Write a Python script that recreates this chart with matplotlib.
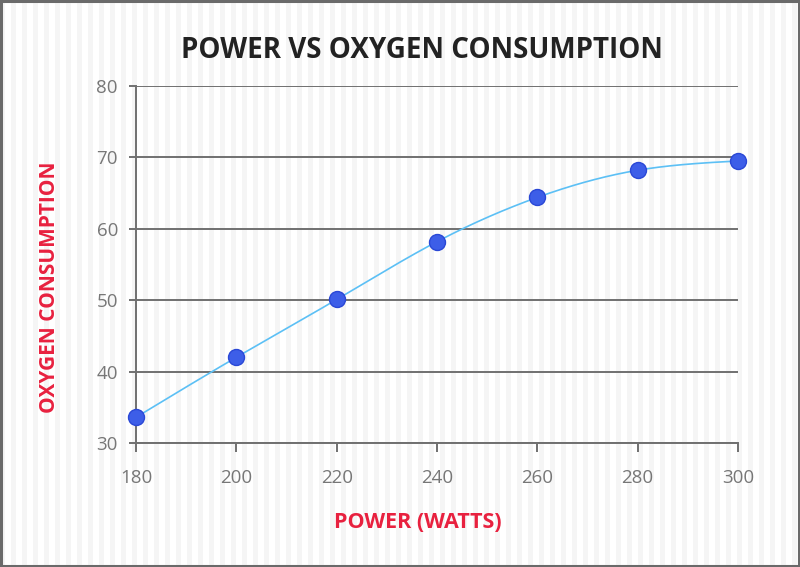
import numpy as np
import matplotlib
matplotlib.use("Agg")
import matplotlib.pyplot as plt
from matplotlib.patches import Rectangle

# ---- data ----
power = [180, 200, 220, 240, 260, 280, 300]
oxygen = [33.6, 42.0, 50.1, 58.2, 64.4, 68.2, 69.5]
x_ticks = [180, 200, 220, 240, 260, 280, 300]
y_ticks = [30, 40, 50, 60, 70, 80]
title = "POWER VS OXYGEN CONSUMPTION"
xlabel = "POWER (WATTS)"
ylabel = "OXYGEN CONSUMPTION"

bold_font = "Open Sans"
tick_font = "Open Sans"

GRAY = "#707070"
RED = "#e8213f"

fig = plt.figure(figsize=(8.0, 5.67), dpi=100)
fig.patch.set_facecolor("white")

# striped background
bg = fig.add_axes([0, 0, 1, 1], zorder=-10)
bg.set_xlim(0, 800)
bg.set_ylim(0, 567)
bg.axis("off")
for x0 in np.arange(0, 800, 11):
    bg.add_patch(Rectangle((x0, 0), 5, 567, facecolor="#f5f5f5", edgecolor="none"))
# border
bg.add_patch(Rectangle((1, 1.5), 798, 565, facecolor="none", edgecolor="#6a6a6a", lw=2.2))

ax = fig.add_axes([136/800, 1-443/567, (738-136)/800, (443-86)/567])
ax.set_facecolor("none")


def natural_spline(x, y, n=400):
    x = np.asarray(x, float)
    y = np.asarray(y, float)
    k = len(x)
    h = np.diff(x)
    A = np.zeros((k, k))
    b = np.zeros(k)
    A[0, 0] = A[-1, -1] = 1
    for i in range(1, k - 1):
        A[i, i - 1] = h[i - 1]
        A[i, i] = 2 * (h[i - 1] + h[i])
        A[i, i + 1] = h[i]
        b[i] = 3 * ((y[i + 1] - y[i]) / h[i] - (y[i] - y[i - 1]) / h[i - 1])
    c = np.linalg.solve(A, b)
    xs = np.linspace(x[0], x[-1], n)
    ys = np.empty_like(xs)
    for j, xv in enumerate(xs):
        i = min(np.searchsorted(x, xv, side="right") - 1, k - 2)
        dx = xv - x[i]
        bi = (y[i + 1] - y[i]) / h[i] - h[i] * (2 * c[i] + c[i + 1]) / 3
        di = (c[i + 1] - c[i]) / (3 * h[i])
        ys[j] = y[i] + bi * dx + c[i] * dx ** 2 + di * dx ** 3
    return xs, ys


xs, ys = natural_spline(power, oxygen)
ax.plot(xs, ys, color="#5cc0f5", lw=1.2, zorder=3, clip_on=False)
ax.plot(power, oxygen, "o", ms=11.5, mfc="#3d5ee8", mec="#2a48d6", mew=1.0,
        zorder=4, clip_on=False)

ax.set_xlim(180, 300)
ax.set_ylim(30, 80)
ax.set_xticks(x_ticks)
ax.set_yticks(y_ticks)
ax.yaxis.grid(True, color=GRAY, lw=1.4)
ax.set_axisbelow(True)
for s in ["top", "right"]:
    ax.spines[s].set_visible(False)
for s in ["left", "bottom"]:
    ax.spines[s].set_color(GRAY)
    ax.spines[s].set_linewidth(1.4)
ax.spines["left"].set_zorder(2)
ax.tick_params(axis="x", length=6.5, width=1.4, color=GRAY, pad=12,
               labelsize=13.5, labelcolor="#777777")
ax.tick_params(axis="y", length=5, width=1.4, color=GRAY, pad=8,
               labelsize=13.5, labelcolor="#777777")
for lab in ax.get_xticklabels() + ax.get_yticklabels():
    lab.set_fontfamily(tick_font)

fig.text(422/800, 1-50/567, title, ha="center", va="center", fontsize=20,
         fontweight="bold", color="#222222", family=bold_font)
fig.text(418/800, 1-522/567, xlabel, ha="center", va="center", fontsize=15.5,
         fontweight="bold", color=RED, family=bold_font)
fig.text(50/800, 1-287/567, ylabel, ha="center", va="center", fontsize=15,
         fontweight="bold", color=RED, family=bold_font, rotation=90)

fig.savefig("out.png", dpi=100)
